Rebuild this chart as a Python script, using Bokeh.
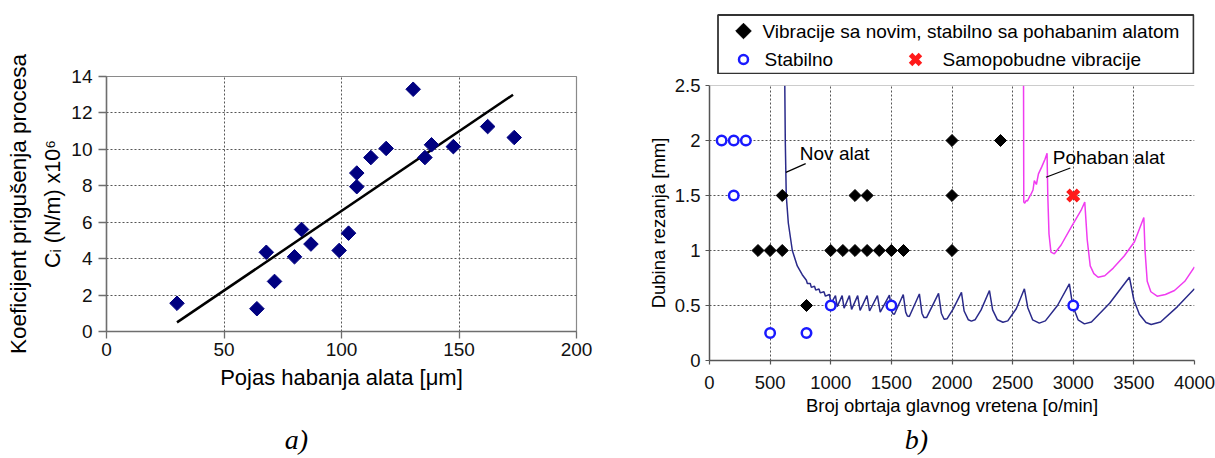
import numpy as np
from bokeh.plotting import figure
from bokeh.models import Range1d, FixedTicker, NumeralTickFormatter, Span, LinearAxis
from bokeh.layouts import row, column
from bokeh.embed import file_html
from bokeh.resources import INLINE
from bokeh.core.properties import value

# ---------------- data: chart a) ----------------
wear_um = [30, 64, 68, 71.5, 80, 83, 87, 99, 103, 106.5, 106.5, 112.5, 119,
           130.5, 135.5, 138.3, 147.6, 162.2, 173.5]
damping = [1.55, 1.25, 4.35, 2.75, 4.1, 5.6, 4.8, 4.45, 5.4, 8.7, 7.95, 9.55,
           10.05, 13.3, 9.55, 10.25, 10.15, 11.25, 10.65]
fit_x = [30, 173]
fit_y = [0.5, 13.0]
a_xticks = [0, 50, 100, 150, 200]
a_yticks = [0, 2, 4, 6, 8, 10, 12, 14]

# ---------------- data: chart b) ----------------
vib_rpm = [400, 500, 600, 1000, 1100, 1200, 1300, 1400, 1500, 1600, 2000,
           600, 1200, 1300, 2000, 2000, 2400, 800]
vib_depth = [1.0, 1.0, 1.0, 1.0, 1.0, 1.0, 1.0, 1.0, 1.0, 1.0, 1.0,
             1.5, 1.5, 1.5, 1.5, 2.0, 2.0, 0.5]
stab_rpm = [100, 200, 300, 200, 500, 800, 1000, 1500, 3000]
stab_depth = [2.0, 2.0, 2.0, 1.5, 0.25, 0.25, 0.5, 0.5, 0.5]
chat_rpm = [3000]
chat_depth = [1.5]

nov_rpm = [621, 625, 633, 650, 683, 724, 765,
           799, 807, 831, 840, 866, 876, 903, 913, 944, 956,
           989, 1003, 1039, 1053, 1094, 1110, 1154, 1172, 1222, 1242,
           1299, 1320, 1385, 1408,
           1484, 1500, 1512, 1525,
           1598, 1618, 1632, 1648,
           1731, 1752, 1768, 1790,
           1889, 1912, 1935, 1960, 2010,
           2078, 2100, 2135, 2160, 2190, 2240,
           2309, 2335, 2375, 2420, 2460, 2530,
           2597, 2625, 2665, 2720, 2770, 2870,
           2968, 2995, 3040, 3092, 3150, 3300,
           3463, 3500, 3545, 3600, 3643, 3720, 3860, 4000]
nov_depth = [2.5, 2.0, 1.5, 1.25, 1.0, 0.86, 0.78,
             0.73, 0.70, 0.70, 0.665, 0.675, 0.64, 0.65, 0.615, 0.625, 0.585,
             0.60, 0.52, 0.59, 0.49, 0.59, 0.475, 0.59, 0.465, 0.59, 0.455,
             0.59, 0.45, 0.59, 0.44,
             0.595, 0.46, 0.425, 0.42,
             0.60, 0.44, 0.405, 0.40,
             0.605, 0.43, 0.392, 0.39,
             0.61, 0.43, 0.375, 0.38, 0.47,
             0.62, 0.45, 0.37, 0.358, 0.37, 0.46,
             0.636, 0.46, 0.37, 0.348, 0.36, 0.47,
             0.652, 0.48, 0.37, 0.34, 0.36, 0.50,
             0.697, 0.50, 0.37, 0.333, 0.35, 0.52,
             0.757, 0.55, 0.42, 0.345, 0.327, 0.35, 0.49, 0.652]

poh_rpm = [2590, 2592, 2600, 2613, 2622, 2640, 2651, 2668, 2679, 2696, 2713,
           2740, 2767, 2784, 2790, 2800, 2816, 2844, 2900, 2982, 3064, 3095,
           3115, 3140, 3170, 3205, 3260, 3330, 3420, 3505, 3582, 3592, 3610,
           3640, 3692, 3760, 3835, 3920, 4000]
poh_depth = [2.5, 1.44, 1.43, 1.455, 1.45, 1.49, 1.51, 1.55, 1.636, 1.6, 1.697,
             1.76, 1.83, 1.885, 1.5, 1.15, 0.985, 0.97, 1.05, 1.21, 1.364, 1.44,
             1.1, 0.86, 0.79, 0.757, 0.77, 0.84, 0.95, 1.08, 1.30, 1.0, 0.72,
             0.625, 0.585, 0.60, 0.636, 0.72, 0.85]

b_xticks = [0, 500, 1000, 1500, 2000, 2500, 3000, 3500, 4000]
b_yticks = [0, 0.5, 1.0, 1.5, 2.0, 2.5]

nov_label = "Nov alat"
nov_label_pos = (745, 1.88)
nov_leader_x = [630, 793]
nov_leader_y = [1.71, 1.79]
poh_label = "Pohaban alat"
poh_label_pos = (2831, 1.845)
poh_leader_x = [2775, 2976]
poh_leader_y = [1.666, 1.75]

legend_texts = ["Vibracije sa novim, stabilno sa pohabanim alatom",
                "Stabilno", "Samopobudne vibracije"]
captions = ["a)", "b)"]

FONT = "Liberation Sans"
GRID = "#555555"


def strip(width, height, xr, bl, br):
    s = figure(width=width, height=height, x_range=Range1d(*xr),
               y_range=Range1d(height, 0), output_backend="svg",
               toolbar_location=None, title=None,
               x_axis_location=None, y_axis_location=None,
               min_border_left=bl, min_border_right=br, min_border_top=0,
               min_border_bottom=0)
    s.grid.visible = False
    s.outline_line_color = None
    s.background_fill_color = "white"
    s.border_fill_color = "white"
    return s


# ---------------- chart a) ----------------
pa = figure(width=600, height=400, x_range=Range1d(0, 200), y_range=Range1d(0, 14),
            output_backend="svg", toolbar_location=None, title=None,
            min_border_left=106, min_border_right=24, min_border_top=76,
            min_border_bottom=69)
pa.background_fill_color = "white"
pa.border_fill_color = "white"
pa.outline_line_color = "#8a8a8a"
pa.outline_line_width = 1.2
pa.xaxis.ticker = FixedTicker(ticks=a_xticks)
pa.yaxis.ticker = FixedTicker(ticks=a_yticks)
for ax in (pa.xaxis[0], pa.yaxis[0]):
    ax.major_label_text_font = FONT
    ax.major_label_text_font_size = "19px"
    ax.major_label_text_color = "#111111"
    ax.axis_line_color = "#6e6e6e"
    ax.axis_line_width = 1.5
    ax.major_tick_line_color = "#6e6e6e"
    ax.major_tick_line_width = 1.3
    ax.minor_tick_line_color = None
    ax.major_tick_in = 0
    ax.axis_label_text_font = FONT
    ax.axis_label_text_font_style = "normal"
    ax.axis_label_text_font_size = "21.5px"
    ax.axis_label_text_color = "black"
pa.xaxis.major_tick_out = 7
pa.xaxis.major_label_standoff = 4
pa.xaxis.axis_label = "Pojas habanja alata [\u03bcm]"
pa.xaxis.axis_label_text_font_size = "22px"
pa.xaxis.axis_label_standoff = 6
pa.yaxis.major_tick_out = 8
pa.yaxis.major_label_standoff = 6
pa.yaxis.axis_label = "C\u1d62 (N/m) x10\u2076"
pa.yaxis.axis_label_standoff = 3
for g in (pa.xgrid[0], pa.ygrid[0]):
    g.grid_line_color = GRID
    g.grid_line_dash = "2 2"
    g.grid_line_width = 1

outer_y = LinearAxis(ticker=FixedTicker(ticks=[]),
                     axis_label="Koeficijent prigu\u0161enja procesa",
                     axis_label_text_font=FONT, axis_label_text_font_style="normal",
                     axis_label_text_font_size="22.5px", axis_label_text_color="black",
                     axis_label_standoff=8, axis_line_color=None,
                     major_tick_line_color=None, minor_tick_line_color=None,
                     major_tick_out=0, major_label_standoff=0)
pa.add_layout(outer_y, "left")

pa.line(fit_x, fit_y, line_color="black", line_width=2.5)
pa.scatter(wear_um, damping, marker="square", angle=np.pi / 4, size=10.3,
           fill_color="#000080", line_color="#000080")

sa = strip(600, 58, (106, 576), 106, 24)
sa.text(x=[296], y=[39], text=[captions[0]], text_font=value("Liberation Serif"),
        text_font_style="italic", text_font_size="28px", text_align="center",
        text_baseline="middle", text_color="black")

# ---------------- legend strip for chart b) ----------------
pl = strip(615, 74, (709, 1194), 109, 21)
pl.quad(left=[717.5], right=[1193], top=[14.5], bottom=[73.2], fill_color=None,
        line_color="#333333", line_width=1.8)
pl.scatter([743], [30.5], marker="square", angle=np.pi / 4, size=11,
           fill_color="black", line_color="black")
pl.scatter([743], [59], marker="circle", size=9, fill_color=None,
           line_color="#1a1aff", line_width=2.5)
pl.scatter([915], [59], marker="x", size=14, line_color="#ff1a1a", line_width=5)
pl.text(x=[762, 764, 942], y=[30.5, 59, 59], text=legend_texts,
        text_font=value(FONT), text_font_size="19px", text_baseline="middle",
        text_align="left", text_color="black")

# ---------------- chart b) ----------------
pb = figure(width=615, height=348, x_range=Range1d(0, 4000), y_range=Range1d(0, 2.5),
            output_backend="svg", toolbar_location=None, title=None,
            min_border_left=109, min_border_right=21, min_border_top=11,
            min_border_bottom=62)
pb.background_fill_color = "white"
pb.border_fill_color = "white"
pb.outline_line_color = None
pb.xaxis.ticker = FixedTicker(ticks=b_xticks)
pb.yaxis.ticker = FixedTicker(ticks=b_yticks)
pb.yaxis.formatter = NumeralTickFormatter(format="0.[0]")
for ax in (pb.xaxis[0], pb.yaxis[0]):
    ax.major_label_text_font = FONT
    ax.major_label_text_font_size = "18.5px"
    ax.major_label_text_color = "#111111"
    ax.axis_line_color = "#555555"
    ax.axis_line_width = 1.5
    ax.major_tick_line_color = "#555555"
    ax.major_tick_line_width = 1.2
    ax.minor_tick_line_color = None
    ax.major_tick_in = 0
    ax.major_tick_out = 4
    ax.axis_label_text_font = FONT
    ax.axis_label_text_font_style = "normal"
    ax.axis_label_text_font_size = "18.5px"
    ax.axis_label_text_color = "black"
pb.xaxis.major_label_standoff = 11
pb.xaxis.axis_label = "Broj obrtaja glavnog vretena [o/min]"
pb.xaxis.axis_label_standoff = 3
pb.yaxis.major_label_standoff = 5
pb.yaxis.axis_label = "Dubina rezanja [mm]"
pb.yaxis.axis_label_standoff = 3
for g in (pb.xgrid[0], pb.ygrid[0]):
    g.grid_line_color = GRID
    g.grid_line_dash = "2 2"
    g.grid_line_width = 1
pb.add_layout(Span(location=2.5, dimension="width", line_color="#9a9a9a",
                   line_width=1.2))

pb.line(nov_rpm, nov_depth, line_color="#2a2a8a", line_width=1.5)
pb.line(poh_rpm, poh_depth, line_color="#f03cf0", line_width=1.5)
pb.line(nov_leader_x, nov_leader_y, line_color="black", line_width=1.2)
pb.line(poh_leader_x, poh_leader_y, line_color="black", line_width=1.2)
pb.text(x=[nov_label_pos[0], poh_label_pos[0]], y=[nov_label_pos[1], poh_label_pos[1]],
        text=[nov_label, poh_label], text_font=value(FONT), text_font_size="19px",
        text_baseline="middle", text_align="left", text_color="black")
pb.scatter(vib_rpm, vib_depth, marker="square", angle=np.pi / 4, size=8.5,
           fill_color="black", line_color="black")
pb.scatter(stab_rpm, stab_depth, marker="circle", size=9.5, fill_color="white",
           line_color="#1a1aff", line_width=2.5)
pb.scatter(chat_rpm, chat_depth, marker="x", size=15, line_color="#ff1a1a",
           line_width=5)

sb = strip(615, 36, (709, 1194), 109, 21)
sb.text(x=[916], y=[17], text=[captions[1]], text_font=value("Liberation Serif"),
        text_font_style="italic", text_font_size="28px", text_align="center",
        text_baseline="middle", text_color="black")

layout = row(column(pa, sa), column(pl, pb, sb))
open("out.html", "w").write(file_html(layout, INLINE))
